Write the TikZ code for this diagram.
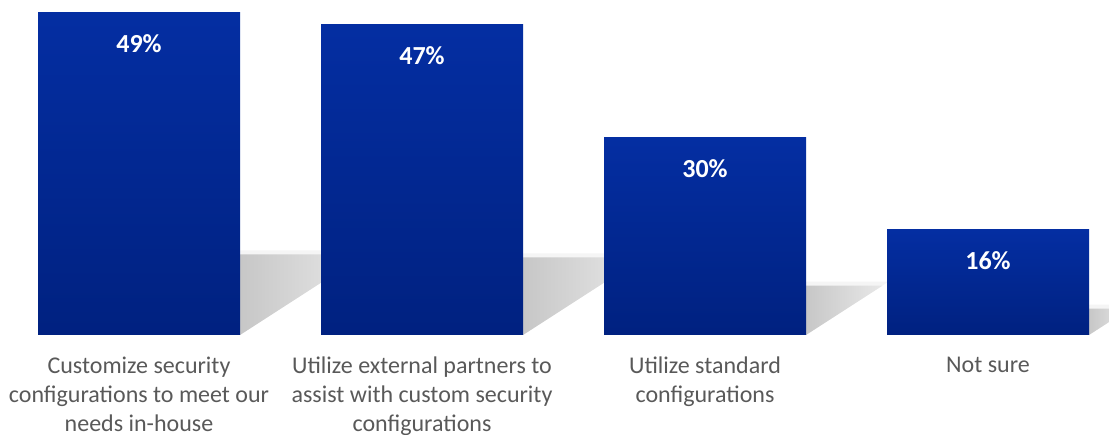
\documentclass[tikz,border=0pt]{standalone}
\usepackage{fontspec}
\setmainfont{Carlito}
\definecolor{bartop}{RGB}{4,46,162}
\definecolor{barbot}{RGB}{0,33,128}
\definecolor{labelgray}{RGB}{89,89,89}
\begin{document}
\begin{tikzpicture}[x=1pt,y=1pt,
  bar/.style={rectangle, draw=none, minimum width=202pt, inner sep=0pt, anchor=south, top color=bartop, bottom color=barbot},
  pct/.style={text=white, font=\fontsize{26}{28}\selectfont\bfseries, inner sep=0pt},
  cat/.style={text=labelgray, font=\fontsize{24}{29}\selectfont, align=center, anchor=north, inner sep=0pt},
  shadowfill/.style={left color=black!22, right color=black!9, draw=none}
]
\useasboundingbox (0,0) rectangle (1109,435);
% shadows
\foreach \r/\h in {240/322, 523/310, 806/197, 1089/105}{
  \pgfmathsetmacro{\sh}{0.25*\h}
  \pgfmathsetmacro{\ln}{1.55*\sh}
  \fill[black!4] (\r,100) -- (\r,100+\sh+4) -- (\r+\ln+6,100+\sh+4) -- cycle;
  \shade[shadowfill] (\r,100) -- (\r,100+\sh) -- (\r+\ln,100+\sh) -- cycle;
}
\fill[white] (1109,0) rectangle (1120,435);
% bars
\node[bar, minimum height=322pt] (b1) at (139,100) {};
\node[bar, minimum height=310pt] (b2) at (422,100) {};
\node[bar, minimum height=197pt] (b3) at (705,100) {};
\node[bar, minimum height=105pt] (b4) at (988,100) {};
% values
\node[pct] (v1) at ([yshift=-31pt]b1.north) {49\%};
\node[pct] (v2) at ([yshift=-31pt]b2.north) {47\%};
\node[pct] (v3) at ([yshift=-31pt]b3.north) {30\%};
\node[pct] (v4) at ([yshift=-31pt]b4.north) {16\%};
% categories
\node[cat] (c1) at ([yshift=-22pt]b1.south) {Customize security\\configurations to meet our\\needs in-house};
\node[cat] (c2) at ([yshift=-22pt]b2.south) {Utilize external partners to\\assist with custom security\\configurations};
\node[cat] (c3) at ([yshift=-22pt]b3.south) {Utilize standard\\configurations};
\node[cat] (c4) at ([yshift=-22pt]b4.south) {Not sure};
\end{tikzpicture}
\end{document}
